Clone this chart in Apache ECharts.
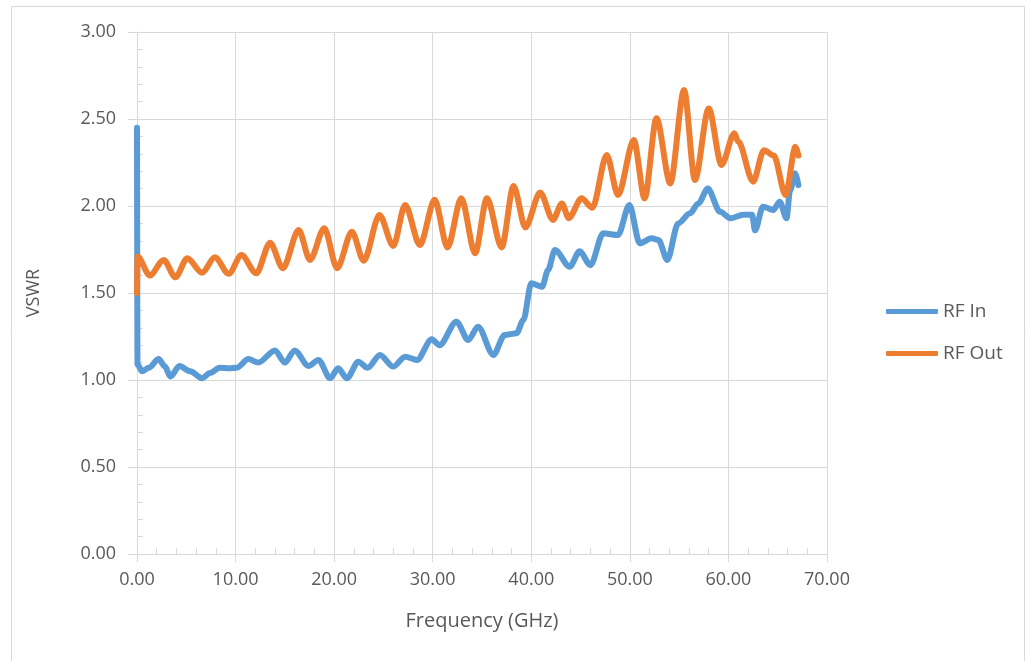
<!DOCTYPE html>
<html>
<head>
<meta charset="utf-8">
<script src="https://cdn.jsdelivr.net/npm/echarts@6/dist/echarts.min.js"></script>
<style>
html,body{margin:0;padding:0;background:#fff;}
#chart{width:1028px;height:661px;}
</style>
</head>
<body>
<div id="chart"></div>
<script>
const seriesNames = ['RF In', 'RF Out'];

const freqIn = [0, 0.05, 0.5, 1.2, 2.2, 2.8, 3.4, 4.3, 5.4, 6.6, 7.4, 8.4, 9.4, 10.1, 11.3, 12.3, 14.0, 15.0, 16.0, 17.4, 18.4, 19.6, 20.4, 21.3, 22.45, 23.4, 24.65, 26.0, 27.2, 28.4, 29.9, 30.7, 32.4, 33.6, 34.6, 36.15, 37.3, 38.5, 39.2, 40.0, 41.1, 41.7, 42.4, 43.9, 44.9, 46.0, 47.3, 48.8, 49.95, 51.0, 52.2, 52.9, 53.8, 54.9, 56.1, 56.95, 57.9, 59.15, 60.2, 61.5, 62.4, 62.7, 63.5, 64.55, 65.2, 65.9, 66.25, 66.8, 67.1];
const vswrIn = [2.45, 1.09, 1.05, 1.07, 1.12, 1.08, 1.02, 1.08, 1.05, 1.01, 1.04, 1.07, 1.067, 1.07, 1.12, 1.10, 1.17, 1.10, 1.17, 1.08, 1.115, 1.01, 1.067, 1.01, 1.105, 1.07, 1.144, 1.077, 1.134, 1.115, 1.234, 1.20, 1.335, 1.23, 1.306, 1.144, 1.259, 1.268, 1.345, 1.556, 1.536, 1.632, 1.747, 1.651, 1.74, 1.66, 1.843, 1.833, 2.006, 1.786, 1.814, 1.805, 1.69, 1.90, 1.958, 2.015, 2.10, 1.967, 1.93, 1.95, 1.95, 1.86, 1.996, 1.977, 2.025, 1.93, 2.09, 2.188, 2.12];

const freqOut = [0, 0.05, 1.3, 2.7, 3.9, 5.1, 6.6, 7.9, 9.3, 10.6, 12.1, 13.5, 14.8, 16.4, 17.55, 19.0, 20.3, 21.8, 23.0, 24.6, 26.0, 27.2, 28.7, 30.2, 31.5, 32.9, 34.3, 35.5, 37.0, 38.2, 39.4, 40.9, 42.2, 43.1, 43.8, 45.1, 46.2, 47.65, 48.8, 50.4, 51.5, 52.7, 54.1, 55.5, 56.6, 58.0, 59.3, 60.6, 61.0, 62.5, 63.6, 64.6, 65.8, 66.8, 67.1];
const vswrOut = [1.50, 1.71, 1.60, 1.69, 1.59, 1.70, 1.617, 1.705, 1.61, 1.718, 1.613, 1.789, 1.642, 1.862, 1.69, 1.872, 1.642, 1.852, 1.685, 1.948, 1.77, 2.006, 1.776, 2.036, 1.762, 2.044, 1.728, 2.044, 1.762, 2.115, 1.877, 2.077, 1.92, 2.015, 1.93, 2.044, 1.99, 2.293, 2.063, 2.379, 2.044, 2.504, 2.13, 2.667, 2.149, 2.561, 2.236, 2.418, 2.37, 2.14, 2.32, 2.29, 2.063, 2.34, 2.29];

const xTicks = [0, 10, 20, 30, 40, 50, 60, 70];
const yTicks = [0, 0.5, 1.0, 1.5, 2.0, 2.5, 3.0];

const FONT = 'Open Sans';
const TXT = '#595959';
const GRID = '#D9D9D9';

function pairs(xs, ys) { return xs.map((x, i) => [x, ys[i]]); }

const chart = echarts.init(document.getElementById('chart'));
chart.setOption({
  animation: false,
  backgroundColor: '#fff',
  textStyle: { fontFamily: FONT },
  graphic: [{
    type: 'rect', silent: true, z: -10,
    shape: { x: 11.5, y: 6.5, width: 1013, height: 720 },
    style: { fill: 'none', stroke: '#D9D9D9', lineWidth: 1 }
  }],
  grid: { left: 137, right: 201, top: 32, bottom: 107, containLabel: false },
  legend: {
    orient: 'vertical', left: 886, top: 302,
    itemWidth: 52, itemHeight: 5, itemGap: 23, padding: 0,
    icon: 'roundRect',
    textStyle: { fontFamily: FONT, fontSize: 19, color: TXT },
    data: seriesNames
  },
  xAxis: [{
    type: 'value', min: xTicks[0], max: xTicks[xTicks.length - 1], interval: 10,
    position: 'bottom',
    name: 'Frequency (GHz)', nameLocation: 'middle', nameGap: 57,
    nameTextStyle: { fontFamily: FONT, fontSize: 20, color: TXT },
    axisLine: { show: true, lineStyle: { color: GRID, width: 1 } },
    axisTick: { show: true, inside: false, length: 8, lineStyle: { color: GRID } },
    axisLabel: { color: TXT, fontFamily: FONT, fontSize: 18, margin: 17, formatter: v => v.toFixed(2) },
    splitLine: { show: true, lineStyle: { color: GRID, width: 1 } }
  }, {
    type: 'value', min: xTicks[0], max: xTicks[xTicks.length - 1], interval: 10,
    position: 'bottom', offset: 0,
    axisLine: { show: false },
    axisTick: { show: false, inside: true },
    minorTick: { show: true, splitNumber: 5, length: 6, lineStyle: { color: GRID } },
    axisLabel: { show: false },
    splitLine: { show: false }
  }],
  yAxis: [{
    type: 'value', min: yTicks[0], max: yTicks[yTicks.length - 1], interval: 0.5,
    position: 'left',
    name: 'VSWR', nameLocation: 'middle', nameGap: 94, nameRotate: 90,
    nameTextStyle: { fontFamily: FONT, fontSize: 18, color: TXT },
    axisLine: { show: true, lineStyle: { color: GRID, width: 1 } },
    axisTick: { show: true, inside: false, length: 9, lineStyle: { color: GRID } },
    axisLabel: { color: TXT, fontFamily: FONT, fontSize: 18, margin: 21, formatter: v => v.toFixed(2) },
    splitLine: { show: true, lineStyle: { color: GRID, width: 1 } }
  }, {
    type: 'value', min: yTicks[0], max: yTicks[yTicks.length - 1], interval: 0.5,
    position: 'left', offset: 0,
    axisLine: { show: false },
    axisTick: { show: false, inside: true },
    minorTick: { show: true, splitNumber: 5, length: 6, lineStyle: { color: GRID } },
    axisLabel: { show: false },
    splitLine: { show: false }
  }],
  series: [{
    name: seriesNames[0], type: 'line', xAxisIndex: 0, yAxisIndex: 0,
    data: pairs(freqIn, vswrIn),
    showSymbol: false, symbol: 'none',
    smooth: 0.3, smoothMonotone: 'x',
    lineStyle: { color: '#5B9BD5', width: 6, cap: 'round', join: 'round' },
    itemStyle: { color: '#5B9BD5' },
    z: 3
  }, {
    name: seriesNames[1], type: 'line', xAxisIndex: 0, yAxisIndex: 0,
    data: pairs(freqOut, vswrOut),
    showSymbol: false, symbol: 'none',
    smooth: 0.3, smoothMonotone: 'x',
    lineStyle: { color: '#ED7D31', width: 6, cap: 'round', join: 'round' },
    itemStyle: { color: '#ED7D31' },
    z: 4
  }]
});
</script>
</body>
</html>
